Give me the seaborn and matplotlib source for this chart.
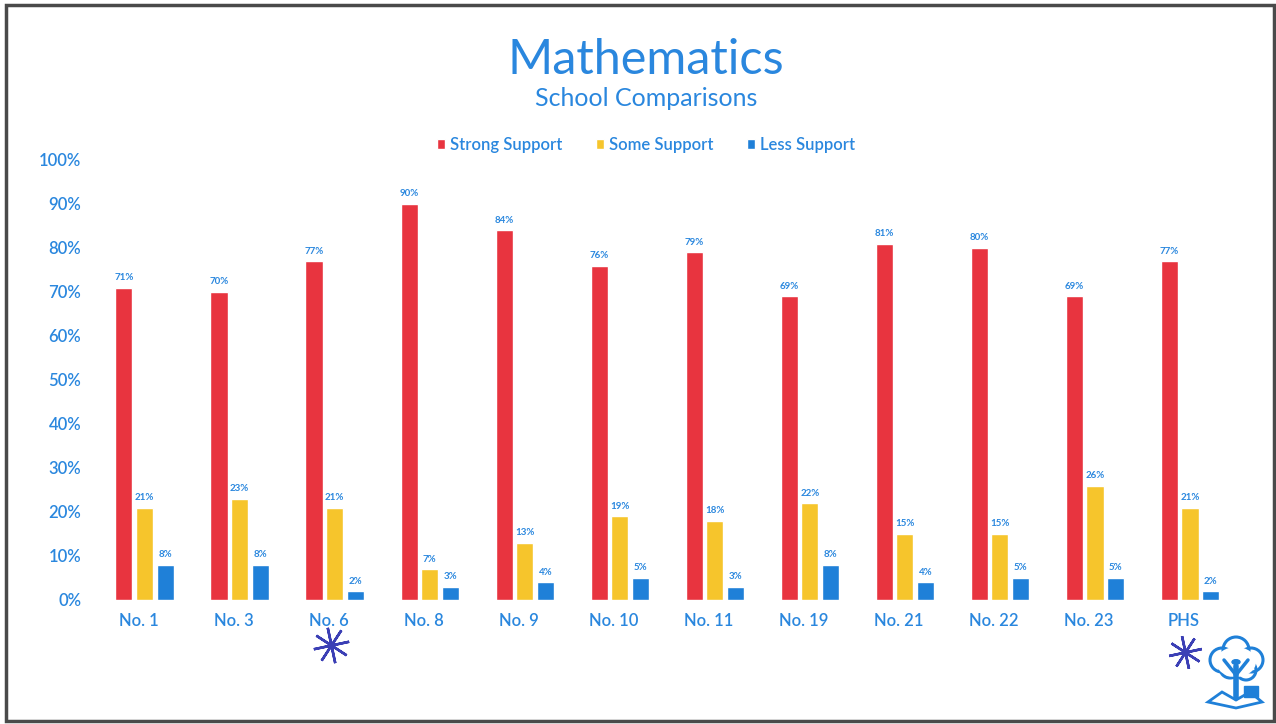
import matplotlib
matplotlib.use("Agg")
import matplotlib.pyplot as plt
import matplotlib.transforms as mtransforms
from matplotlib.patches import Rectangle, Circle, Ellipse, Polygon
from matplotlib.lines import Line2D
import seaborn as sns
import pandas as pd

schools = ["No. 1", "No. 3", "No. 6", "No. 8", "No. 9", "No. 10",
           "No. 11", "No. 19", "No. 21", "No. 22", "No. 23", "PHS"]
strong_support = [71, 70, 77, 90, 84, 76, 79, 69, 81, 80, 69, 77]
some_support = [21, 23, 21, 7, 13, 19, 18, 22, 15, 15, 26, 21]
less_support = [8, 8, 2, 3, 4, 5, 3, 8, 4, 5, 5, 2]
levels = ["Strong Support", "Some Support", "Less Support"]
y_ticks = [0, 10, 20, 30, 40, 50, 60, 70, 80, 90, 100]

RED = "#e8343f"
YELLOW = "#f6c52c"
BLUE = "#1f80d8"
TEXT_BLUE = "#2a87de"
INK = "#3b3fb5"

sns.set_theme(style="white")
plt.rcParams["font.family"] = ["Lato", "DejaVu Sans"]

df = pd.DataFrame({
    "school": schools * 3,
    "level": [levels[0]] * 12 + [levels[1]] * 12 + [levels[2]] * 12,
    "value": strong_support + some_support + less_support,
})

fig = plt.figure(figsize=(12.76, 7.24), dpi=100)
fig.patch.set_facecolor("white")
ax = fig.add_axes([95 / 1276, (724 - 600) / 724, 1145 / 1276, 440 / 724])

sns.barplot(data=df, x="school", y="value", hue="level", hue_order=levels,
            palette=[RED, YELLOW, BLUE], width=0.65, gap=0.17,
            saturation=1, ax=ax, legend=True)

for cont in ax.containers:
    vals = [p.get_height() for p in cont]
    ax.bar_label(cont, labels=[f"{v:.0f}%" for v in vals], padding=4,
                 fontsize=7, fontweight="bold", color=TEXT_BLUE, clip_on=False)

ax.set_xlim(-0.521, 11.526)
ax.set_ylim(0, 100)
ax.set_yticks(y_ticks)
ax.set_yticklabels([f"{t}%" for t in y_ticks])
ax.set_xlabel("")
ax.set_ylabel("")
ax.tick_params(axis="both", length=0, labelsize=12, labelcolor=TEXT_BLUE)
ax.tick_params(axis="y", pad=10)
ax.tick_params(axis="x", pad=9)
shift = mtransforms.ScaledTranslation(-6 / 100, 0, fig.dpi_scale_trans)
for lab in ax.get_xticklabels():
    lab.set_transform(lab.get_transform() + shift)
for lab in ax.get_xticklabels() + ax.get_yticklabels():
    lab.set_fontweight("semibold")
for s in ax.spines.values():
    s.set_visible(False)
ax.grid(False)

handles, labels = ax.get_legend_handles_labels()
ax.legend_.remove()
leg = fig.legend(handles, labels, loc="center", bbox_to_anchor=(646 / 1276, 1 - 145 / 724),
                 ncol=3, frameon=False, fontsize=12, handlelength=0.5, handleheight=0.5,
                 handletextpad=0.3, columnspacing=2.0)
for t in leg.get_texts():
    t.set_color(TEXT_BLUE)
    t.set_fontweight("semibold")

fig.text(646 / 1276, 1 - 60 / 724, "Mathematics", ha="center", va="center",
         fontsize=35, color=TEXT_BLUE)
fig.text(646 / 1276, 1 - 99 / 724, "School Comparisons", ha="center", va="center",
         fontsize=18, color=TEXT_BLUE)

# page frame
fig.add_artist(Rectangle((6 / 1276, 3 / 724), 1268 / 1276, 716 / 724,
                         transform=fig.transFigure, fill=False,
                         edgecolor="#4a4a4a", linewidth=2.5))

# hand-drawn asterisks
for (px, py, ms) in [(331, 645, 26), (1185, 652, 24)]:
    fig.add_artist(Line2D([px / 1276], [1 - py / 724], transform=fig.transFigure,
                          marker=(8, 2, 12), markersize=ms, markeredgewidth=1.8,
                          color=INK, linestyle="none"))

# small tree-and-reader emblem
tf = fig.transFigure
def fx(x):
    return x / 1276
def fy(y):
    return 1 - y / 724
for (cx, cy, r) in [(1222, 660, 12), (1236, 650, 13), (1251, 660, 12), (1230, 668, 10), (1246, 670, 10)]:
    fig.add_artist(Ellipse((fx(cx), fy(cy)), 2 * r / 1276, 2 * r / 724, transform=tf,
                           fill=False, edgecolor=BLUE, linewidth=2.2))
fig.add_artist(Ellipse((fx(1236), fy(662)), 40 / 1276, 30 / 724, transform=tf,
                       facecolor="white", edgecolor="none"))
fig.add_artist(Circle((fx(1236), fy(662)), 4 / 1276, transform=tf, color=BLUE))
fig.add_artist(Line2D([fx(1236), fx(1236)], [fy(666), fy(698)], transform=tf,
                      color=BLUE, linewidth=4))
fig.add_artist(Line2D([fx(1224), fx(1236), fx(1248)], [fy(660), fy(675), fy(660)],
                      transform=tf, color=BLUE, linewidth=2.5))
fig.add_artist(Polygon([(fx(1208), fy(702)), (fx(1222), fy(692)), (fx(1236), fy(700)),
                        (fx(1250), fy(692)), (fx(1262), fy(702)), (fx(1236), fy(708))],
                       closed=True, transform=tf, fill=False, edgecolor=BLUE, linewidth=2))
fig.add_artist(Rectangle((fx(1244), fy(697)), 14 / 1276, 11 / 724, transform=tf,
                         facecolor=BLUE, edgecolor=BLUE))

fig.savefig("out.png", dpi=100, facecolor="white")
